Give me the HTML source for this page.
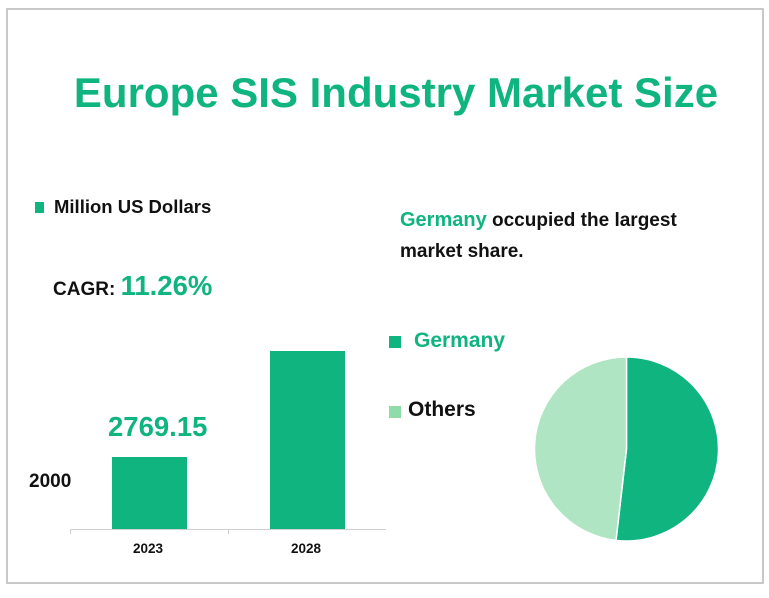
<!DOCTYPE html>
<html><head><style>
body{margin:0;width:769px;height:598px;background:#fff;position:relative;font-family:"Liberation Sans",sans-serif;overflow:hidden}
.a{position:absolute;white-space:nowrap}
</style></head><body>
<div class="a" style="left:6px;top:8px;width:754px;height:572px;border:2px solid #c8c8c8"></div>
<div class="a" style="left:0;width:792px;top:69px;text-align:center;font-size:42px;font-weight:bold;color:#10b47e">Europe SIS Industry Market Size</div>
<div class="a" style="left:35px;top:202px;width:9px;height:11px;background:#10b47e"></div>
<div class="a" style="left:54px;top:196px;font-size:18.5px;font-weight:bold;color:#111">Million US Dollars</div>
<div class="a" style="left:53px;top:270px;font-size:19px;font-weight:bold;color:#111">CAGR: <span style="color:#10b47e;font-size:27.5px">11.26%</span></div>
<div class="a" style="left:400px;top:205px;font-size:19px;font-weight:bold;color:#111;line-height:31px"><span style="color:#10b47e;font-size:20px">Germany</span> occupied the largest<br>market share.</div>
<div class="a" style="left:112px;top:457px;width:75px;height:73px;background:#0fb47e"></div>
<div class="a" style="left:270px;top:351px;width:75px;height:179px;background:#0fb47e"></div>
<div class="a" style="left:70px;top:529px;width:316px;height:1px;background:#d0d0d0"></div>
<div class="a" style="left:70px;top:529px;width:1px;height:5px;background:#d0d0d0"></div>
<div class="a" style="left:228px;top:529px;width:1px;height:5px;background:#d0d0d0"></div>
<div class="a" style="left:108px;top:411px;font-size:27.5px;font-weight:bold;color:#10b47e">2769.15</div>
<div class="a" style="left:29px;top:471px;font-size:19px;font-weight:bold;color:#111">2000</div>
<div class="a" style="left:133px;top:541px;font-size:13.5px;font-weight:bold;color:#111">2023</div>
<div class="a" style="left:291px;top:541px;font-size:13.5px;font-weight:bold;color:#111">2028</div>
<div class="a" style="left:389px;top:336px;width:12px;height:12px;background:#10b47e"></div>
<div class="a" style="left:414px;top:329px;font-size:21px;font-weight:bold;color:#10b47e">Germany</div>
<div class="a" style="left:389px;top:406px;width:12px;height:12px;background:#8ddcaa"></div>
<div class="a" style="left:408px;top:398px;font-size:21px;font-weight:bold;color:#111">Others</div>
<svg class="a" style="left:0;top:0" width="769" height="598">
<path d="M626.5,449 L626.5,357 A92,92 0 1,1 616,540.4 Z" fill="#0fb47e" stroke="#fff" stroke-width="1.5"/>
<path d="M626.5,449 L616,540.4 A92,92 0 0,1 626.5,357 Z" fill="#afe5c3" stroke="#fff" stroke-width="1.5"/>
</svg>
</body></html>
